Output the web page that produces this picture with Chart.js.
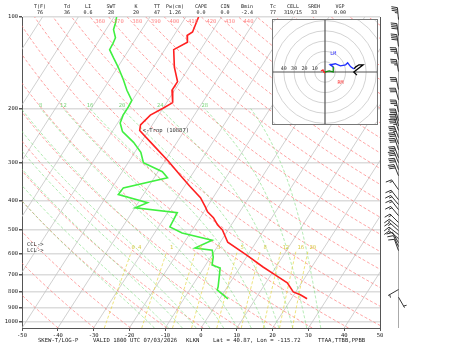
<!DOCTYPE html>
<html>
<head>
<meta charset="utf-8">
<script src="https://cdn.jsdelivr.net/npm/chart.js@4.4.0/dist/chart.umd.min.js"></script>
<style>
  html, body { margin: 0; padding: 0; background: #fff; }
  #wrap { position: relative; width: 450px; height: 346px; overflow: hidden; }
  #skewt { position: absolute; left: 0; top: 0; }
  #hodo { position: absolute; left: 272px; top: 19px; }
</style>
</head>
<body>
<div id="wrap">
  <canvas id="skewt" width="450" height="346"></canvas>
  <canvas id="hodo" width="106" height="106"></canvas>
</div>
<script>
// --- SOUNDING DATA (KLKN 18Z) ---
const pressT = [100, 106, 112, 115, 121, 128, 146, 163, 174, 191, 199, 210, 226, 236, 258, 298,
                330, 361, 392, 420, 436, 456, 481, 500, 549, 605, 662, 703, 746, 799, 817, 842];
const tempC  = [-56.4, -55.9, -55.4, -56.3, -55.0, -57.5, -54.2, -50.7, -50.7, -48.3, -49.9, -52.3,
                -53.3, -52.5, -47.3, -38.9, -33.3, -28.3, -23.5, -20.5, -19.0, -16.3, -13.9, -11.6,
                -7.9, -0.3, 6.4, 11.2, 16.0, 19.3, 21.8, 24.4];

const pressTd = [100, 105, 110, 117, 122, 128, 136, 146, 161, 174, 188, 197, 210, 223, 238, 258, 278, 301,
                 322, 337, 364, 383, 407, 423, 439, 489, 512, 541, 574, 583, 614, 652, 667, 769, 787, 842];
const dewC    = [-79.3, -78.5, -77.9, -75.9, -75.6, -75.4, -72.9, -69.9, -66.1, -63.3, -60.1, -59.9,
                 -59.9, -59.3, -57.1, -52.1, -48.3, -45.7, -38.8, -36.3, -46.8, -47.0, -37.4, -39.9,
                 -27.3, -26.8, -22.3, -12.6, -16.0, -10.8, -9.3, -8.2, -5.4, -2.6, -2.3, 2.3];

// wind barbs along the right staff
const barbP   = [102, 115, 125, 138, 151, 173, 187, 205, 219, 228, 236, 249, 261, 273, 290, 301, 317,
                 332, 369, 398, 413, 429, 449, 473, 489, 503, 518, 534, 551, 567, 585, 785, 832];
const barbDir = [265, 262, 262, 258, 260, 258, 255, 258, 255, 255, 252, 250, 250, 252, 250, 248, 250,
                 248, 235, 232, 230, 232, 230, 225, 220, 222, 218, 220, 240, 245, 250, 150, 60];
const barbKt  = [35, 40, 40, 35, 35, 30, 30, 35, 35, 35, 35, 35, 30, 30, 30, 30, 30,
                 30, 15, 15, 15, 15, 15, 15, 15, 15, 15, 15, 10, 10, 10, 5, 5];

// hodograph trace (kt) by layer
const hodoRed   = [[-4, 1], [-2, 2], [-1, 0], [0, -1]];
const hodoGreen = [[0, -1], [0, 0], [4, 1], [8, 0], [8, 5]];
const hodoBlue  = [[8, 5], [5, 7], [10, 8], [15, 6], [20, 7], [22, 9], [25, 5], [28, 3]];
const hodoBlack = [[28, 3], [30, 5], [33, 7], [37, 7], [28, 0], [31, -3]];
const hodoRings = [10, 20, 30, 40, 50, 60, 70];
const ringLabels = [40, 30, 20, 10];

// axes
const tempTicks  = [-50, -40, -30, -20, -10, 0, 10, 20, 30, 40, 50];
const pressTicks = [100, 200, 300, 400, 500, 600, 700, 800, 900, 1000];

// header / footer text
const headLabels = ['T(F)', 'Td', 'LI', 'SWT', 'K', 'TT', 'Pw(cm)', 'CAPE', 'CIN', 'Bmin', 'Tc', 'CELL', 'SREH', 'VGP'];
const headValues = ['76', '36', '0.6', '28', '20', '47', '1.26', '0.0', '0.0', '-2.4', '77', '319/15', '33', '0.00'];
const headX      = [40, 67, 88, 111, 136, 157, 175, 201, 225, 247, 273, 293, 314, 340];

// diagram reference lines
const isoTemps = [];
for (let t = -110; t <= 50; t += 10) isoTemps.push(t);
const thetaList = [];
for (let th = 220; th <= 520; th += 10) thetaList.push(th);
const thetaLabels = [360, 370, 380, 390, 400, 410, 420, 430, 440];
const moistList = [-16, -12, -8, -4, 0, 4, 8, 12, 16, 20, 24, 28, 32];
const mixList = [0.4, 1, 2, 3, 5, 8, 12, 16, 20];

const SKEW = 23.7; // deg C per ln(p) so isotherms lean ~33 deg off vertical
const FONT = "'DejaVu Sans Mono', monospace";

function skewX(t, p) { return t + SKEW * Math.log(1050 / p); }

const sampleP = [];
for (let p = 1050; p >= 100; p -= 10) sampleP.push(p);

function dryLine(th) {
    return sampleP.map(p => ({ x: skewX(th * Math.pow(p / 1000, 0.2857) - 273.15, p), y: p }));
}

function es(tc) { return 6.112 * Math.exp(17.67 * tc / (tc + 243.5)); }

function moistRate(p, tk) {
    const e = es(tk - 273.15);
    const rs = 0.622 * e / (p - e);
    return (287.04 * tk + 2.501e6 * rs) / (p * (1005.7 + 2.501e6 * 2.501e6 * rs * 0.622 / (287.04 * tk * tk)));
}

function moistLine(thw) {
    const pts = [];
    let tk = thw + 273.15, p = 1000;
    const below = [];
    while (p < 1050) {
        const k1 = moistRate(p, tk);
        const k2 = moistRate(p + 2.5, tk + k1 * 2.5);
        tk += k2 * 5; p += 5;
        below.push({ x: skewX(tk - 273.15, p), y: p });
    }
    below.reverse().forEach(d => pts.push(d));
    tk = thw + 273.15; p = 1000;
    pts.push({ x: skewX(thw, 1000), y: 1000 });
    while (p > 200) {
        const k1 = moistRate(p, tk);
        const k2 = moistRate(p - 2.5, tk - k1 * 2.5);
        tk -= k2 * 5; p -= 5;
        pts.push({ x: skewX(tk - 273.15, p), y: p });
    }
    return pts;
}

function tdFromW(w, p) {
    const e = w * p / (622 + w);
    const l = Math.log(e / 6.112);
    return 243.5 * l / (17.67 - l);
}

function mixLine(w) {
    const pts = [];
    for (let p = 1050; p >= 590; p -= 20) pts.push({ x: skewX(tdFromW(w, p), p), y: p });
    return pts;
}

function lineSet(data, color, width, dash) {
    return { data: data, borderColor: color, borderWidth: width, borderDash: dash || [],
             pointRadius: 0, showLine: true, tension: 0 };
}

// --- DATASETS (first = drawn on top) ---
const datasets = [
    lineSet(pressT.map((p, i) => ({ x: skewX(tempC[i], p), y: p })), '#ff2020', 1.6),
    lineSet(pressTd.map((p, i) => ({ x: skewX(dewC[i], p), y: p })), '#40f040', 1.6)
];
mixList.forEach(w => datasets.push(lineSet(mixLine(w), 'rgba(230,215,70,0.9)', 0.8, [3, 2])));
moistList.forEach(t => datasets.push(lineSet(moistLine(t), 'rgba(120,220,120,0.75)', 0.8, [3, 2])));
thetaList.forEach(th => datasets.push(lineSet(dryLine(th), 'rgba(255,110,110,0.8)', 0.8, [3, 2])));
isoTemps.forEach(t => datasets.push(lineSet([{ x: skewX(t, 1050), y: 1050 }, { x: skewX(t, 100), y: 100 }], '#c4c4c4', 0.8)));

function drawBarb(ctx, x, y, dir, kt) {
    const a = (dir + 90) * Math.PI / 180;
    const sx = Math.sin(a), sy = -Math.cos(a);
    const fx = sy, fy = -sx;
    const len = 12, flen = 6;
    ctx.beginPath();
    ctx.moveTo(x, y);
    ctx.lineTo(x + sx * len, y + sy * len);
    ctx.stroke();
    let d = len;
    let rest = Math.round(kt / 5) * 5;
    while (rest >= 50) {
        ctx.beginPath();
        ctx.moveTo(x + sx * d, y + sy * d);
        ctx.lineTo(x + sx * (d - 1) + fx * flen, y + sy * (d - 1) + fy * flen);
        ctx.lineTo(x + sx * (d - 3), y + sy * (d - 3));
        ctx.closePath();
        ctx.fill();
        d -= 4; rest -= 50;
    }
    while (rest >= 10) {
        ctx.beginPath();
        ctx.moveTo(x + sx * d, y + sy * d);
        ctx.lineTo(x + sx * (d + 1.5) + fx * flen, y + sy * (d + 1.5) + fy * flen);
        ctx.stroke();
        d -= 1.8; rest -= 10;
    }
    if (rest >= 5) {
        if (d === len) d -= 1.8;
        ctx.beginPath();
        ctx.moveTo(x + sx * d, y + sy * d);
        ctx.lineTo(x + sx * (d + 0.8) + fx * flen * 0.5, y + sy * (d + 0.8) + fy * flen * 0.5);
        ctx.stroke();
    }
}

const skewDecor = {
    id: 'skewDecor',
    beforeDraw(chart) {
        const ctx = chart.ctx;
        ctx.save();
        ctx.fillStyle = '#fff';
        ctx.fillRect(0, 0, chart.width, chart.height);
        ctx.restore();
    },
    afterDatasetsDraw(chart) {
        const ctx = chart.ctx;
        const xs = chart.scales.x, ys = chart.scales.y;
        const area = chart.chartArea;
        const px = (t, p) => xs.getPixelForValue(skewX(t, p));
        ctx.save();
        ctx.font = '5.5px ' + FONT;
        ctx.textAlign = 'center';
        ctx.textBaseline = 'middle';

        // dry adiabat labels near the top
        ctx.fillStyle = 'rgba(255,120,120,0.9)';
        thetaLabels.forEach(th => {
            ctx.fillText(String(th), px(th * Math.pow(0.1, 0.2857) - 273.15, 100) + 10, area.top + 5);
        });
        // moist adiabat labels at 200 mb
        ctx.fillStyle = 'rgba(110,210,110,0.9)';
        moistList.forEach(t => {
            const pts = moistLine(t);
            const top = pts[pts.length - 1];
            const x = xs.getPixelForValue(top.x);
            if (x > area.left + 4 && x < 240) ctx.fillText(String(t), x, ys.getPixelForValue(200) - 3);
        });
        // mixing ratio labels
        ctx.fillStyle = 'rgba(215,200,60,0.95)';
        mixList.forEach(w => {
            ctx.fillText(String(w), px(tdFromW(w, 590), 590) + 5, ys.getPixelForValue(572));
        });

        // tropopause, CCL, LCL
        ctx.fillStyle = '#333';
        ctx.textAlign = 'left';
        ctx.fillText('<-Trop (10887)', px(-52.5, 236) + 3, ys.getPixelForValue(236));
        ctx.fillText('CCL->', area.left + 5, ys.getPixelForValue(559));
        ctx.fillText('LCL->', area.left + 5, ys.getPixelForValue(585));

        // frame right edge
        ctx.strokeStyle = '#555';
        ctx.lineWidth = 1;
        ctx.beginPath();
        ctx.moveTo(area.right + 0.5, area.top);
        ctx.lineTo(area.right + 0.5, area.bottom);
        ctx.stroke();

        // wind staff + barbs
        const staffX = 398.5;
        ctx.strokeStyle = '#aaa';
        ctx.beginPath();
        ctx.moveTo(staffX, area.top);
        ctx.lineTo(staffX, area.bottom);
        ctx.stroke();
        ctx.strokeStyle = '#333';
        ctx.fillStyle = '#333';
        ctx.lineWidth = 1;
        barbP.forEach((p, i) => drawBarb(ctx, staffX, ys.getPixelForValue(p), barbDir[i], barbKt[i]));
        ctx.restore();
    },
    afterDraw(chart) {
        const ctx = chart.ctx;
        ctx.save();
        ctx.fillStyle = '#222';
        ctx.font = '5px ' + FONT;
        ctx.textAlign = 'center';
        ctx.textBaseline = 'middle';
        headLabels.forEach((s, i) => ctx.fillText(s, headX[i], 7));
        headValues.forEach((s, i) => ctx.fillText(s, headX[i], 13));
        ctx.font = '5.6px ' + FONT;
        ctx.textAlign = 'left';
        ctx.fillText('SKEW-T/LOG-P', 38, 341);
        ctx.fillText('VALID 1800 UTC 07/03/2026', 93, 341);
        ctx.fillText('KLKN', 186, 341);
        ctx.fillText('Lat = 40.87, Lon = -115.72', 213, 341);
        ctx.fillText('TTAA,TTBB,PPBB', 318, 341);
        ctx.restore();
    }
};

new Chart(document.getElementById('skewt'), {
    type: 'scatter',
    data: { datasets: datasets },
    options: {
        responsive: false,
        animation: false,
        devicePixelRatio: 1,
        layout: { padding: { top: 17, right: 70, left: 0, bottom: 0 } },
        plugins: { legend: { display: false }, tooltip: { enabled: false } },
        scales: {
            x: {
                type: 'linear', min: -50, max: 50,
                afterBuildTicks: s => { s.ticks = tempTicks.map(v => ({ value: v })); },
                afterFit: s => { s.height = 18; },
                grid: { drawOnChartArea: false, tickLength: 3, color: '#555' },
                border: { color: '#555' },
                ticks: { font: { family: FONT, size: 5.5 }, color: '#222', padding: 1, maxRotation: 0 }
            },
            y: {
                type: 'logarithmic', reverse: true, min: 100, max: 1050,
                afterBuildTicks: s => { s.ticks = pressTicks.map(v => ({ value: v })); },
                afterFit: s => { s.width = 22; },
                grid: { color: '#dcdcdc', lineWidth: 1.5, tickLength: 3, tickColor: '#555' },
                border: { color: '#555' },
                ticks: { font: { family: FONT, size: 5.5 }, color: '#222', padding: 1, callback: v => String(v) }
            }
        }
    },
    plugins: [skewDecor]
});

// --- HODOGRAPH INSET ---
function hodoSet(pts, color) {
    return lineSet(pts.map(d => ({ x: d[0], y: d[1] })), color, 1.3);
}

const hodoGrid = {
    id: 'hodoGrid',
    beforeDraw(chart) {
        const ctx = chart.ctx;
        const xs = chart.scales.x, ys = chart.scales.y;
        const cx = xs.getPixelForValue(0), cy = ys.getPixelForValue(0);
        ctx.save();
        ctx.fillStyle = '#fff';
        ctx.fillRect(0, 0, chart.width, chart.height);
        ctx.beginPath();
        ctx.rect(0, 0, chart.width, chart.height);
        ctx.clip();
        ctx.strokeStyle = '#c8c8c8';
        ctx.lineWidth = 0.8;
        hodoRings.forEach(r => {
            ctx.beginPath();
            ctx.arc(cx, cy, xs.getPixelForValue(r) - cx, 0, Math.PI * 2);
            ctx.stroke();
        });
        ctx.strokeStyle = '#555';
        ctx.lineWidth = 1.2;
        ctx.beginPath();
        ctx.moveTo(0, cy); ctx.lineTo(chart.width, cy);
        ctx.moveTo(cx, 0); ctx.lineTo(cx, chart.height);
        ctx.stroke();
        ctx.fillStyle = '#333';
        ctx.font = '5px ' + FONT;
        ctx.textAlign = 'center';
        ctx.textBaseline = 'bottom';
        ringLabels.forEach(r => ctx.fillText(String(r), xs.getPixelForValue(-r), cy - 1));
        ctx.restore();
    },
    afterDraw(chart) {
        const ctx = chart.ctx;
        const xs = chart.scales.x, ys = chart.scales.y;
        ctx.save();
        ctx.font = '5px ' + FONT;
        ctx.textAlign = 'center';
        ctx.textBaseline = 'middle';
        ctx.fillStyle = '#3030ff';
        ctx.fillText('LM', xs.getPixelForValue(8), ys.getPixelForValue(18));
        ctx.fillStyle = '#ff3030';
        ctx.fillText('RM', xs.getPixelForValue(15), ys.getPixelForValue(-10));
        ctx.strokeStyle = '#777';
        ctx.lineWidth = 1;
        ctx.strokeRect(0.5, 0.5, chart.width - 1, chart.height - 1);
        ctx.restore();
    }
};

new Chart(document.getElementById('hodo'), {
    type: 'scatter',
    data: {
        datasets: [
            hodoSet(hodoRed, '#ff2020'),
            hodoSet(hodoGreen, '#108a10'),
            hodoSet(hodoBlue, '#2030ff'),
            hodoSet(hodoBlack, '#000')
        ]
    },
    options: {
        responsive: false,
        animation: false,
        devicePixelRatio: 1,
        layout: { padding: 0 },
        plugins: { legend: { display: false }, tooltip: { enabled: false } },
        scales: {
            x: { display: false, min: -51.5, max: 51.5 },
            y: { display: false, min: -51.5, max: 51.5 }
        }
    },
    plugins: [hodoGrid]
});
</script>
</body>
</html>
